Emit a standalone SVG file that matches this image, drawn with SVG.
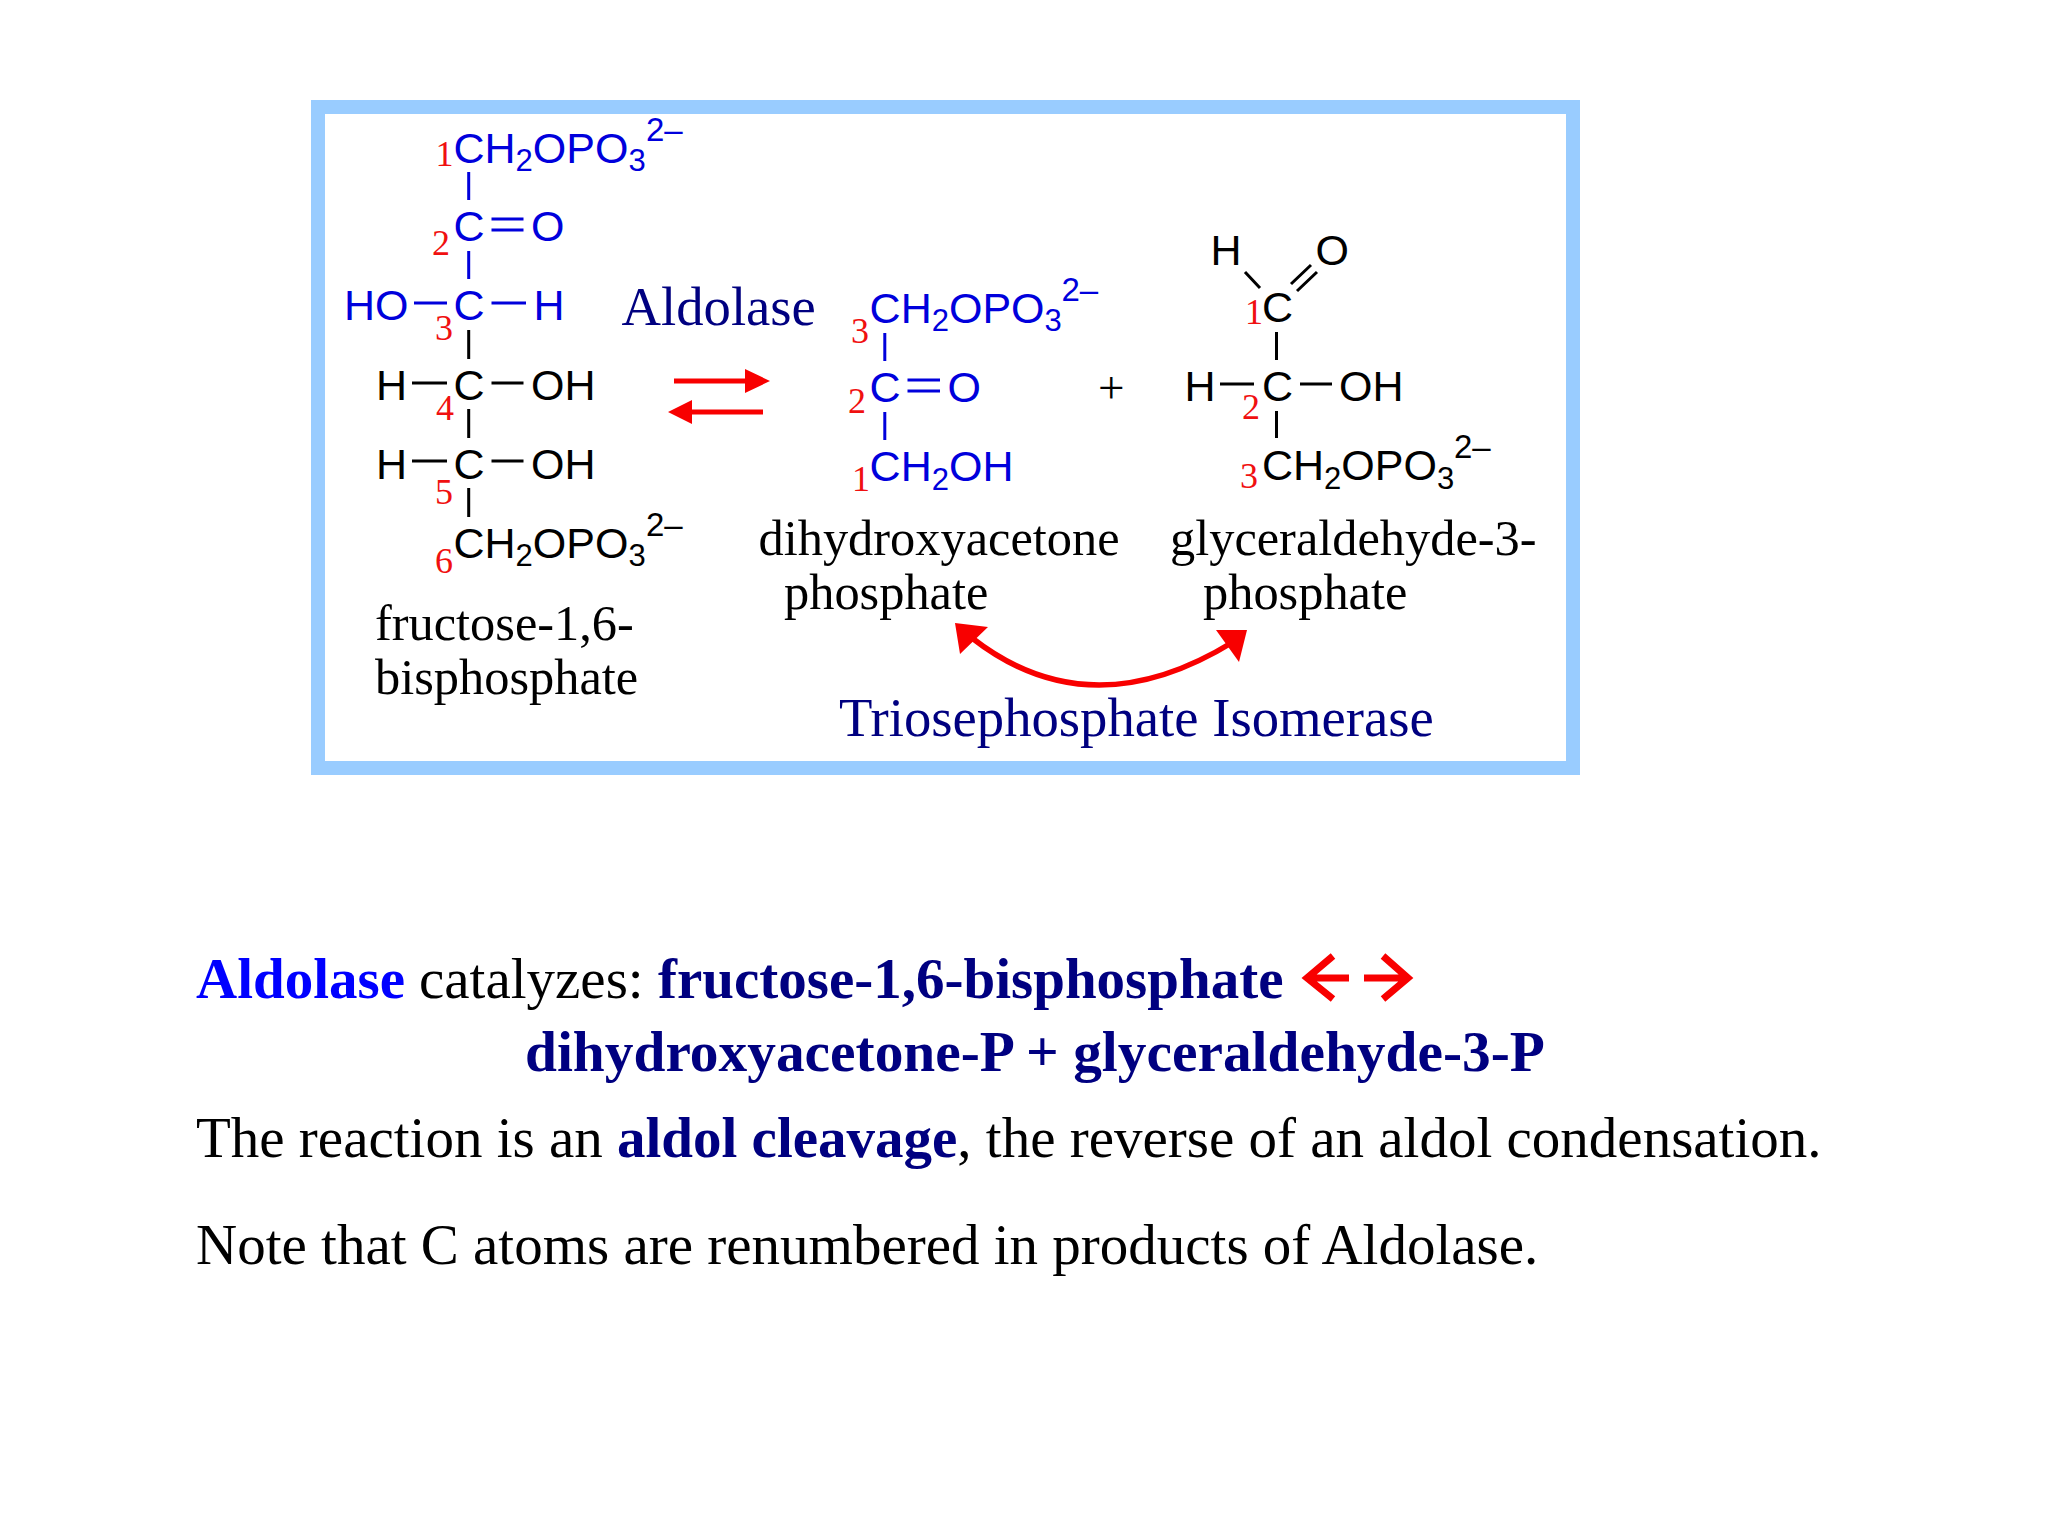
<svg xmlns="http://www.w3.org/2000/svg" width="2048" height="1536" viewBox="0 0 2048 1536">
<style>
text{white-space:pre}
.s{font-family:"Liberation Sans",Arial,sans-serif;font-size:43px}
.t{font-family:"Liberation Serif","Times New Roman",serif}
.n{font-family:"Liberation Serif","Times New Roman",serif;font-size:36px;fill:#f01010}
.sub{font-size:31px}
.sup{font-size:33px}
.blue{fill:#0000dc}
.k{fill:#000}
.nm{font-size:50.400px;fill:#000}
.enz{font-size:54.700px;fill:#000080}
.b{font-size:57px;font-weight:bold;fill:#000080}
.b2{font-size:57.400px;font-weight:bold;fill:#000080}
.r{font-size:57px;fill:#000}
.bb{stroke-width:3;fill:none}
.bl{stroke:#0000dc}
.bk{stroke:#000}
.red{stroke:#f80000;fill:none}
.hd{fill:#f80000}
</style>
<rect width="2048" height="1536" fill="#fff"/>
<rect id="frame" x="318" y="107" width="1255" height="661" fill="#fff" stroke="#99ccff" stroke-width="14"/>
<g id="connectors">
<path class="bb bl" d="M468.700 172V200M468.700 251V279M491.500 219H523.500M491.500 230H523.500M414 303H447M491.500 303H526"/>
<path class="bb bk" d="M468.700 330V359M468.700 409V438M468.700 488V517M412 383H447M491.500 383H523.500M412 461H447M491.500 461H523.500"/>
<path class="bb bl" d="M884.800 333V361M884.800 412V440M907.500 380H940M907.500 391H940"/>
<path class="bb bk" d="M1245 272L1260 288M1291 284L1311 265M1297 291L1317 272M1276.500 332V360M1276.500 411V438M1220 384H1254M1300 384H1332"/>
<g id="equilibrium">
<path class="red" stroke-width="5" d="M674 381H746M763 412H691"/>
<path class="hd" d="M770 381L745 369V393ZM668 412L692 400V424Z"/>
</g>
<g id="isomerase-arrow">
<path class="red" stroke-width="5.500" d="M972 638Q1090 730 1233 642"/>
<path class="hd" d="M955 623L988 627L960 654ZM1247 630L1216 630L1239 662Z"/>
</g>
<path id="double-arrow" class="red" stroke-width="7" d="M1349 978H1310M1333 956L1307 978L1333 999M1364 978H1405M1383 956L1408 978L1383 999"/>
</g>
<g id="fructose">
<text class="s blue" x="453.500" y="162.500">CH<tspan class="sub" dy="8.500">2</tspan><tspan dy="-8.500">OPO</tspan><tspan class="sub" dy="8.500">3</tspan></text>
<text class="s blue sup" x="646" y="141">2–</text>
<text class="s blue" x="453.500" y="241">C</text><text class="s blue" x="531" y="241">O</text>
<text class="s blue" x="344" y="320">HO</text><text class="s blue" x="453.500" y="320">C</text><text class="s blue" x="533.500" y="320">H</text>
<text class="s k" x="376" y="399.500">H</text><text class="s k" x="453.500" y="399.500">C</text><text class="s k" x="531" y="399.500">OH</text>
<text class="s k" x="376" y="479">H</text><text class="s k" x="453.500" y="479">C</text><text class="s k" x="531" y="479">OH</text>
<text class="s k" x="453.500" y="557.500">CH<tspan class="sub" dy="8.500">2</tspan><tspan dy="-8.500">OPO</tspan><tspan class="sub" dy="8.500">3</tspan></text>
<text class="s k sup" x="646" y="536">2–</text>
<text class="n" x="435.500" y="166">1</text><text class="n" x="432" y="255">2</text><text class="n" x="435" y="340">3</text><text class="n" x="436" y="420">4</text><text class="n" x="435" y="504">5</text><text class="n" x="435" y="573">6</text>
<text class="t nm" x="375" y="639.500">fructose-1,6-</text>
<text class="t nm" x="375" y="693.500">bisphosphate</text>
</g>
<g id="aldolase-label"><text class="t enz" x="621.500" y="325">Aldolase</text></g>
<g id="dhap">
<text class="s blue" x="869.600" y="322.500">CH<tspan class="sub" dy="8.500">2</tspan><tspan dy="-8.500">OPO</tspan><tspan class="sub" dy="8.500">3</tspan></text>
<text class="s blue sup" x="1061.500" y="301">2–</text>
<text class="s blue" x="869.600" y="402">C</text><text class="s blue" x="947.500" y="402">O</text>
<text class="s blue" x="869.600" y="481">CH<tspan class="sub" dy="8.500">2</tspan><tspan dy="-8.500">OH</tspan></text>
<text class="n" x="851" y="343">3</text><text class="n" x="848" y="413">2</text><text class="n" x="852" y="491">1</text>
<text class="t nm" x="758.500" y="554.500">dihydroxyacetone</text>
<text class="t nm" x="784" y="608.500">phosphate</text>
</g>
<g id="plus"><text class="t" x="1098" y="403" font-size="47" fill="#000">+</text></g>
<g id="gap">
<text class="s k" x="1210.500" y="265">H</text><text class="s k" x="1315.500" y="265">O</text>
<text class="s k" x="1262" y="322">C</text>
<text class="s k" x="1184.500" y="400.500">H</text><text class="s k" x="1262" y="400.500">C</text><text class="s k" x="1339" y="400.500">OH</text>
<text class="s k" x="1262" y="480">CH<tspan class="sub" dy="8.500">2</tspan><tspan dy="-8.500">OPO</tspan><tspan class="sub" dy="8.500">3</tspan></text>
<text class="s k sup" x="1454" y="458">2–</text>
<text class="n" x="1245" y="324">1</text><text class="n" x="1242" y="419">2</text><text class="n" x="1240" y="488">3</text>
<text class="t nm" x="1170" y="554.500">glyceraldehyde-3-</text>
<text class="t nm" x="1203" y="608.500">phosphate</text>
</g>
<g id="isomerase-label"><text class="t enz" x="839" y="736">Triosephosphate Isomerase</text></g>
<g id="notes">
<text class="t b" x="196" y="998"><tspan fill="#0000ff">Aldolase</tspan></text>
<text class="t r" x="419" y="998">catalyzes:</text>
<text class="t b" x="658" y="998">fructose-1,6-bisphosphate</text>
<text class="t b2" x="525" y="1071">dihydroxyacetone-P + glyceraldehyde-3-P</text>
<text class="t r" x="196" y="1157">The reaction is an <tspan class="b">aldol cleavage</tspan>, the reverse of an aldol condensation.</text>
<text class="t r" x="196" y="1264">Note that C atoms are renumbered in products of Aldolase.</text>
</g>
</svg>
